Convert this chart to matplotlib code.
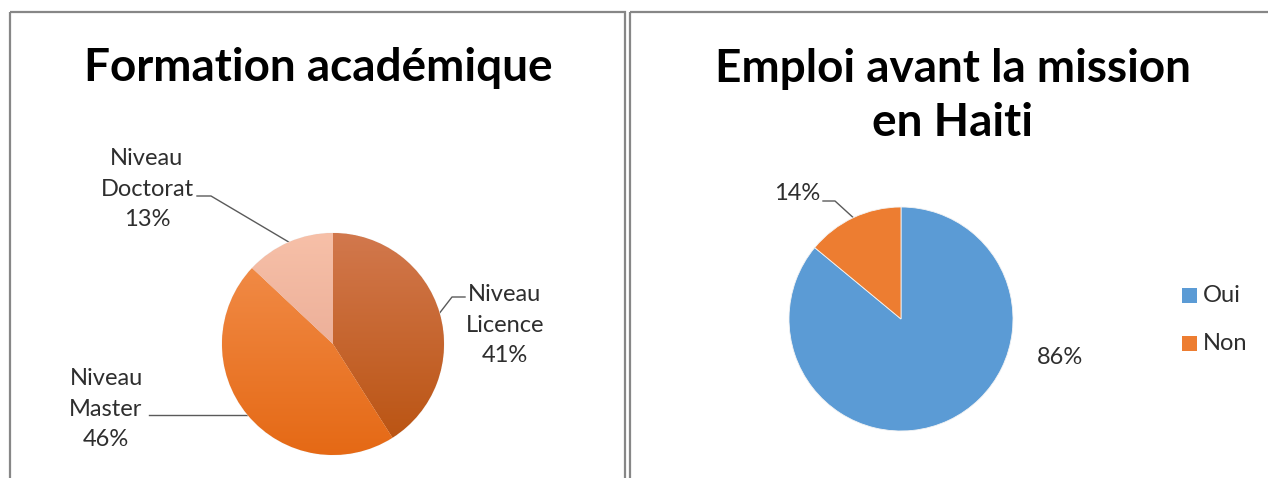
import numpy as np
import matplotlib
matplotlib.use("Agg")
import matplotlib.pyplot as plt
from matplotlib.patches import Rectangle
from matplotlib.colors import to_rgb

# data
edu_labels = ["Niveau\nLicence", "Niveau\nMaster", "Niveau\nDoctorat"]
edu_pct = [41, 46, 13]
emp_labels = ["Oui", "Non"]
emp_pct = [86, 14]

W, H = 1268, 478
plt.rcParams["font.family"] = ["Lato", "DejaVu Sans"]

fig = plt.figure(figsize=(W / 100, H / 100), dpi=100)
bg = fig.add_axes([0, 0, 1, 1])
bg.set_xlim(0, W)
bg.set_ylim(H, 0)
bg.axis("off")

# panel frames
for x0, x1 in [(10, 625), (630, W + 10)]:
    bg.add_patch(Rectangle((x0, 12), x1 - x0, H + 20, fill=False,
                           ec="#878787", lw=1.6))

TXT = "#2e2e2e"
LEAD = "#5a5a5a"


def pie_axes(cx, cy, r):
    ax = fig.add_axes([(cx - r) / W, (H - cy - r) / H, 2 * r / W, 2 * r / H])
    ax.set_xlim(-1, 1)
    ax.set_ylim(-1, 1)
    ax.axis("off")
    return ax


def edge(cx, cy, r, w):
    a = np.deg2rad((w.theta1 + w.theta2) / 2)
    return cx + r * np.cos(a), cy - r * np.sin(a)


def shade(ax, wedge, top, bottom):
    t = np.array(to_rgb(top))
    b = np.array(to_rgb(bottom))
    f = np.linspace(0, 1, 256)[:, None]
    img = (t * (1 - f) + b * f)[:, None, :].repeat(2, axis=1)
    im = ax.imshow(img, extent=[-1, 1, -1, 1], origin="upper",
                   aspect="auto", zorder=wedge.get_zorder() + 0.1)
    im.set_clip_path(wedge)


# ---- left: Formation academique
r = 111
cx, cy = 333, 344
ax1 = pie_axes(cx, cy, r)
grads = [("#d2784d", "#b9520f"), ("#f3904e", "#e56915"), ("#f7c0a8", "#e2a08b")]
wedges, _ = ax1.pie(edu_pct, startangle=90, counterclock=False, radius=1,
                    colors=[g[1] for g in grads],
                    wedgeprops=dict(lw=0.6, ec="#f4f4f4"))
ax1.set_xlim(-1, 1)
ax1.set_ylim(-1, 1)
for w, g in zip(wedges, grads):
    shade(ax1, w, *g)

bg.text(318, 68, "Formation académique", ha="center", va="center",
        fontsize=33, fontweight="bold", color="black")

lab_pos = [(505, 325), (106, 409), (147, 189)]
fs = 17
for w, lab, p, (tx, ty) in zip(wedges, edu_labels, edu_pct, lab_pos):
    bg.text(tx, ty, f"{lab}\n{p}%", ha="center", va="center",
            fontsize=fs, color=TXT, linespacing=1.55)

ex, ey = edge(cx, cy, r, wedges[0])
bg.plot([ex, 452, 465], [ey, 297, 297], color=LEAD, lw=1)
ex, ey = edge(cx, cy, r, wedges[1])
bg.plot([149, ex], [ey, ey], color=LEAD, lw=1)
ex, ey = edge(cx, cy, r, wedges[2])
bg.plot([197, 211, ex], [196, 196, ey], color=LEAD, lw=1)

# ---- right: Emploi avant la mission
cx2, cy2 = 901, 319
r2 = 112
ax2 = pie_axes(cx2, cy2, r2)
wedges2, _ = ax2.pie(emp_pct, startangle=90, counterclock=False, radius=1,
                     colors=["#5b9bd5", "#ed7d31"],
                     wedgeprops=dict(lw=0.6, ec="#f4f4f4"))
ax2.set_xlim(-1, 1)
ax2.set_ylim(-1, 1)

bg.text(953, 96, "Emploi avant la mission\nen Haiti", ha="center",
        va="center", fontsize=33, fontweight="bold", color="black",
        linespacing=1.33)

bg.text(1060, 358, f"{emp_pct[0]}%", ha="center", va="center",
        fontsize=fs, color=TXT)
bg.text(797, 194, f"{emp_pct[1]}%", ha="center", va="center",
        fontsize=fs, color=TXT)
ex, ey = edge(cx2, cy2, r2, wedges2[1])
bg.plot([823, 835, ex], [201, 201, ey], color=LEAD, lw=1)

# legend
for i, (lab, w) in enumerate(zip(emp_labels, wedges2)):
    y = 295 + i * 48
    bg.add_patch(Rectangle((1182, y - 7.5), 15, 15, fc=w.get_facecolor(),
                           ec="none"))
    bg.text(1203, y, lab, ha="left", va="center", fontsize=fs, color=TXT)

fig.savefig("out.png", dpi=100)
